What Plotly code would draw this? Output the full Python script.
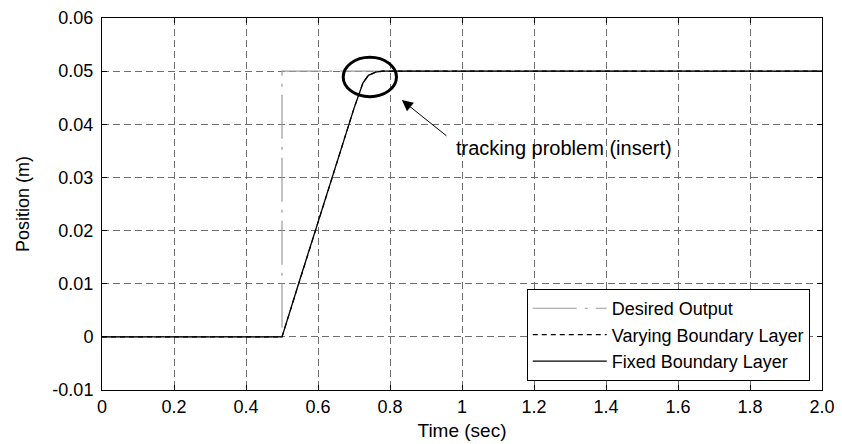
import plotly.graph_objects as go

# ---- data ----
time_desired = [0.0, 0.5, 0.5, 2.0]
pos_desired = [0.0, 0.0, 0.05, 0.05]

time_varying = [0.0, 0.5, 0.6, 0.7, 0.725, 0.74, 0.76, 0.78, 2.0]
pos_varying = [0.0, 0.0, 0.0215, 0.043, 0.0478, 0.0492, 0.0498, 0.05, 0.05]

time_fixed = [0.0, 0.5, 0.546, 0.6, 0.65, 0.7, 0.725, 0.74, 0.76, 0.78, 2.0]
pos_fixed = [0.0, 0.0, 0.01, 0.0215, 0.032, 0.043, 0.0478, 0.0492, 0.0498, 0.05, 0.05]

x_ticks = [0, 0.2, 0.4, 0.6, 0.8, 1.0, 1.2, 1.4, 1.6, 1.8, 2.0]
x_ticklabels = ["0", "0.2", "0.4", "0.6", "0.8", "1", "1.2", "1.4", "1.6", "1.8", "2.0"]
y_ticks = [-0.01, 0, 0.01, 0.02, 0.03, 0.04, 0.05, 0.06]
y_ticklabels = ["-0.01", "0", "0.01", "0.02", "0.03", "0.04", "0.05", "0.06"]

FONT = "Liberation Sans, Arial, Helvetica, sans-serif"

fig = go.Figure()
fig.add_trace(go.Scatter(x=time_desired, y=pos_desired, mode="lines",
                         name="Desired Output",
                         line=dict(color="#9a9a9a", width=1.2, dash="44px,8px,3px,8px")))
fig.add_trace(go.Scatter(x=time_varying, y=pos_varying, mode="lines",
                         name="Varying Boundary Layer",
                         line=dict(color="black", width=1.2, dash="5px,4px")))
fig.add_trace(go.Scatter(x=time_fixed, y=pos_fixed, mode="lines",
                         name="Fixed Boundary Layer",
                         line=dict(color="black", width=1.3)))

axis_common = dict(
    showline=True, linecolor="black", linewidth=1, mirror="ticks",
    ticks="inside", ticklen=5, tickcolor="black", tickwidth=1,
    showgrid=True, gridcolor="#6e6e6e", gridwidth=1, griddash="7px,4px",
    zeroline=False, automargin=False,
    tickfont=dict(family=FONT, size=18, color="black"),
)

fig.update_xaxes(range=[0, 2.0], tickmode="array", tickvals=x_ticks, ticktext=x_ticklabels,
                 title=dict(text="Time (sec)", font=dict(family=FONT, size=19, color="black"), standoff=8),
                 **axis_common)
fig.update_yaxes(range=[-0.01, 0.06], tickmode="array", tickvals=y_ticks, ticktext=y_ticklabels,
                 ticklabelstandoff=4,
                 title=dict(text="Position (m)", font=dict(family=FONT, size=18, color="black"), standoff=18),
                 **axis_common)

# circle around the tracking problem
fig.add_shape(type="circle", xref="x", yref="y", x0=0.670, x1=0.818, y0=0.0452, y1=0.0526,
              line=dict(color="black", width=3))

# annotation with arrow
fig.add_annotation(x=0.833, y=0.04455, ax=0.961, ay=0.0376, xref="x", yref="y",
                   axref="x", ayref="y", text="", showarrow=True,
                   arrowhead=2, arrowsize=2.2, arrowwidth=1, arrowcolor="black")
fig.add_annotation(x=1.283, y=0.0355, xref="x", yref="y", text="tracking problem (insert)",
                   showarrow=False, font=dict(family=FONT, size=20, color="black"))

fig.update_layout(
    width=842, height=444,
    margin=dict(l=102, r=20, t=18, b=54),
    paper_bgcolor="white", plot_bgcolor="white",
    showlegend=True,
    legend=dict(x=0.983, y=0.024, xanchor="right", yanchor="bottom",
                bgcolor="white", bordercolor="black", borderwidth=1,
                font=dict(family=FONT, size=18, color="black"),
                itemwidth=74, traceorder="normal"),
)

fig.write_html("out.html")
